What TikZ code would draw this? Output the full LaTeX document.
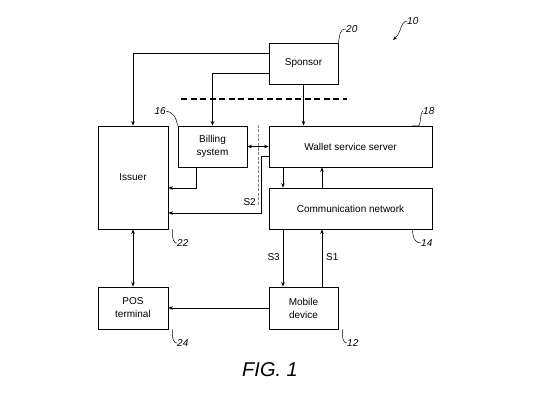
\documentclass[tikz,border=0pt]{standalone}
\usepackage{fontspec}
\setmainfont{Liberation Sans}
\usetikzlibrary{arrows.meta}
\begin{document}
\begin{tikzpicture}[x=1pt,y=-1pt,
  box/.style={draw,line width=0.8pt,inner sep=0pt,align=center,font=\fontsize{10}{13}\selectfont},
  arr/.style={line width=0.6pt,-{Stealth[length=4.5pt,width=3.5pt]}},
  darr/.style={line width=0.6pt,{Stealth[length=4.5pt,width=3.5pt]}-{Stealth[length=4.5pt,width=3.5pt]}},
  lead/.style={line width=0.5pt},
  num/.style={font=\fontsize{10}{12}\selectfont\itshape,inner sep=0pt},
  slab/.style={font=\fontsize{10}{12}\selectfont,inner sep=0pt}]
\useasboundingbox (0,0) rectangle (554,401);
% boxes
\node[box,minimum width=69pt,minimum height=41pt] (sponsor) at (303.5,63.5) {Sponsor};
\node[box,minimum width=70pt,minimum height=103pt] (issuer) at (133,177.5) {Issuer};
\node[box,minimum width=69pt,minimum height=41pt] (billing) at (212.5,146.5) {Billing\\system};
\node[box,minimum width=163pt,minimum height=41pt] (wallet) at (350.5,146.5) {Wallet service server};
\node[box,minimum width=163pt,minimum height=41pt] (comm) at (350.5,208.5) {Communication network};
\node[box,minimum width=70pt,minimum height=42pt] (pos) at (133,308) {POS\\terminal};
\node[box,minimum width=69pt,minimum height=42pt] (mobile) at (303.5,308) {Mobile\\device};
% dashed lines
\draw[line width=1.1pt,dash pattern=on 6pt off 3.5pt] (181,99) -- (347,99);
\draw[gray,line width=1pt,dash pattern=on 3pt off 1.5pt] (258,125) -- (258,205);
% connectors
\draw[arr] ([yshift=10.5pt]sponsor.west) -| (issuer.north);
\draw[arr] ([yshift=-9.5pt]sponsor.west) -| (billing.north);
\draw[arr] (sponsor.south) -- (sponsor.south |- wallet.north);
\draw[darr] (billing.east) -- (wallet.west);
\draw[arr] ([xshift=-16.5pt]billing.south) |- ([yshift=-10.5pt]issuer.east);
\draw[arr] ([yshift=-9.5pt]wallet.west) -- ++(-7,0) |- ([yshift=-35.5pt]issuer.east);
\draw[arr] ([xshift=-67.5pt]wallet.south) -- ([xshift=-67.5pt]comm.north);
\draw[arr] ([xshift=-28.5pt]comm.north) -- ([xshift=-28.5pt]wallet.south);
\draw[arr] ([xshift=-67.5pt]comm.south) -- ([xshift=-20.5pt]mobile.north);
\draw[arr] ([xshift=18.5pt]mobile.north) -- ([xshift=-28.5pt]comm.south);
\draw[darr] (issuer.south) -- (pos.north);
\draw[arr] (mobile.west) -- (pos.east);
% signal labels
\node[slab,anchor=east] (s2) at (256,202) {S2};
\node[slab,anchor=east] (s3) at (280,257) {S3};
\node[slab,anchor=west] (s1) at (326,257) {S1};
% reference numerals
\node[num,anchor=west] (n20) at (346,29) {20};
\draw[lead] (sponsor.north east) .. controls (340,36) and (339,29) .. (n20.west);
\node[num,anchor=west] (n10) at (407,21) {10};
\coordinate (t10) at (393,40);
\draw[lead,-{Stealth[length=4pt,width=3pt]}] (n10.west) .. controls (400,22) and (402,32) .. (t10);
\node[num,anchor=east] (n16) at (166,111) {16};
\draw[lead] (billing.north west) .. controls (176,116) and (172,112) .. (n16.east);
\node[num,anchor=west] (n18) at (423,111) {18};
\coordinate (c18) at (412,126);
\draw[lead] (c18) -- (418,126) .. controls (421,126) and (420,112) .. (n18.west);
\node[num,anchor=west] (n22) at (177,243) {22};
\draw[lead] (issuer.south east) ++(4,0) .. controls (172,240) and (174,243) .. (n22.west);
\node[num,anchor=west] (n14) at (421,243) {14};
\draw[lead] ([xshift=-20pt]comm.south east) .. controls (413,240) and (416,243) .. (n14.west);
\node[num,anchor=west] (n24) at (177,343) {24};
\draw[lead] (pos.south east) ++(4,0) .. controls (172,340) and (174,343) .. (n24.west);
\node[num,anchor=west] (n12) at (347,343) {12};
\draw[lead] (mobile.south east) ++(4,0) .. controls (342,340) and (344,343) .. (n12.west);
% caption
\node[font=\fontsize{20}{24}\selectfont\itshape] (fig) at (270,370) {FIG. 1};
\end{tikzpicture}
\end{document}
